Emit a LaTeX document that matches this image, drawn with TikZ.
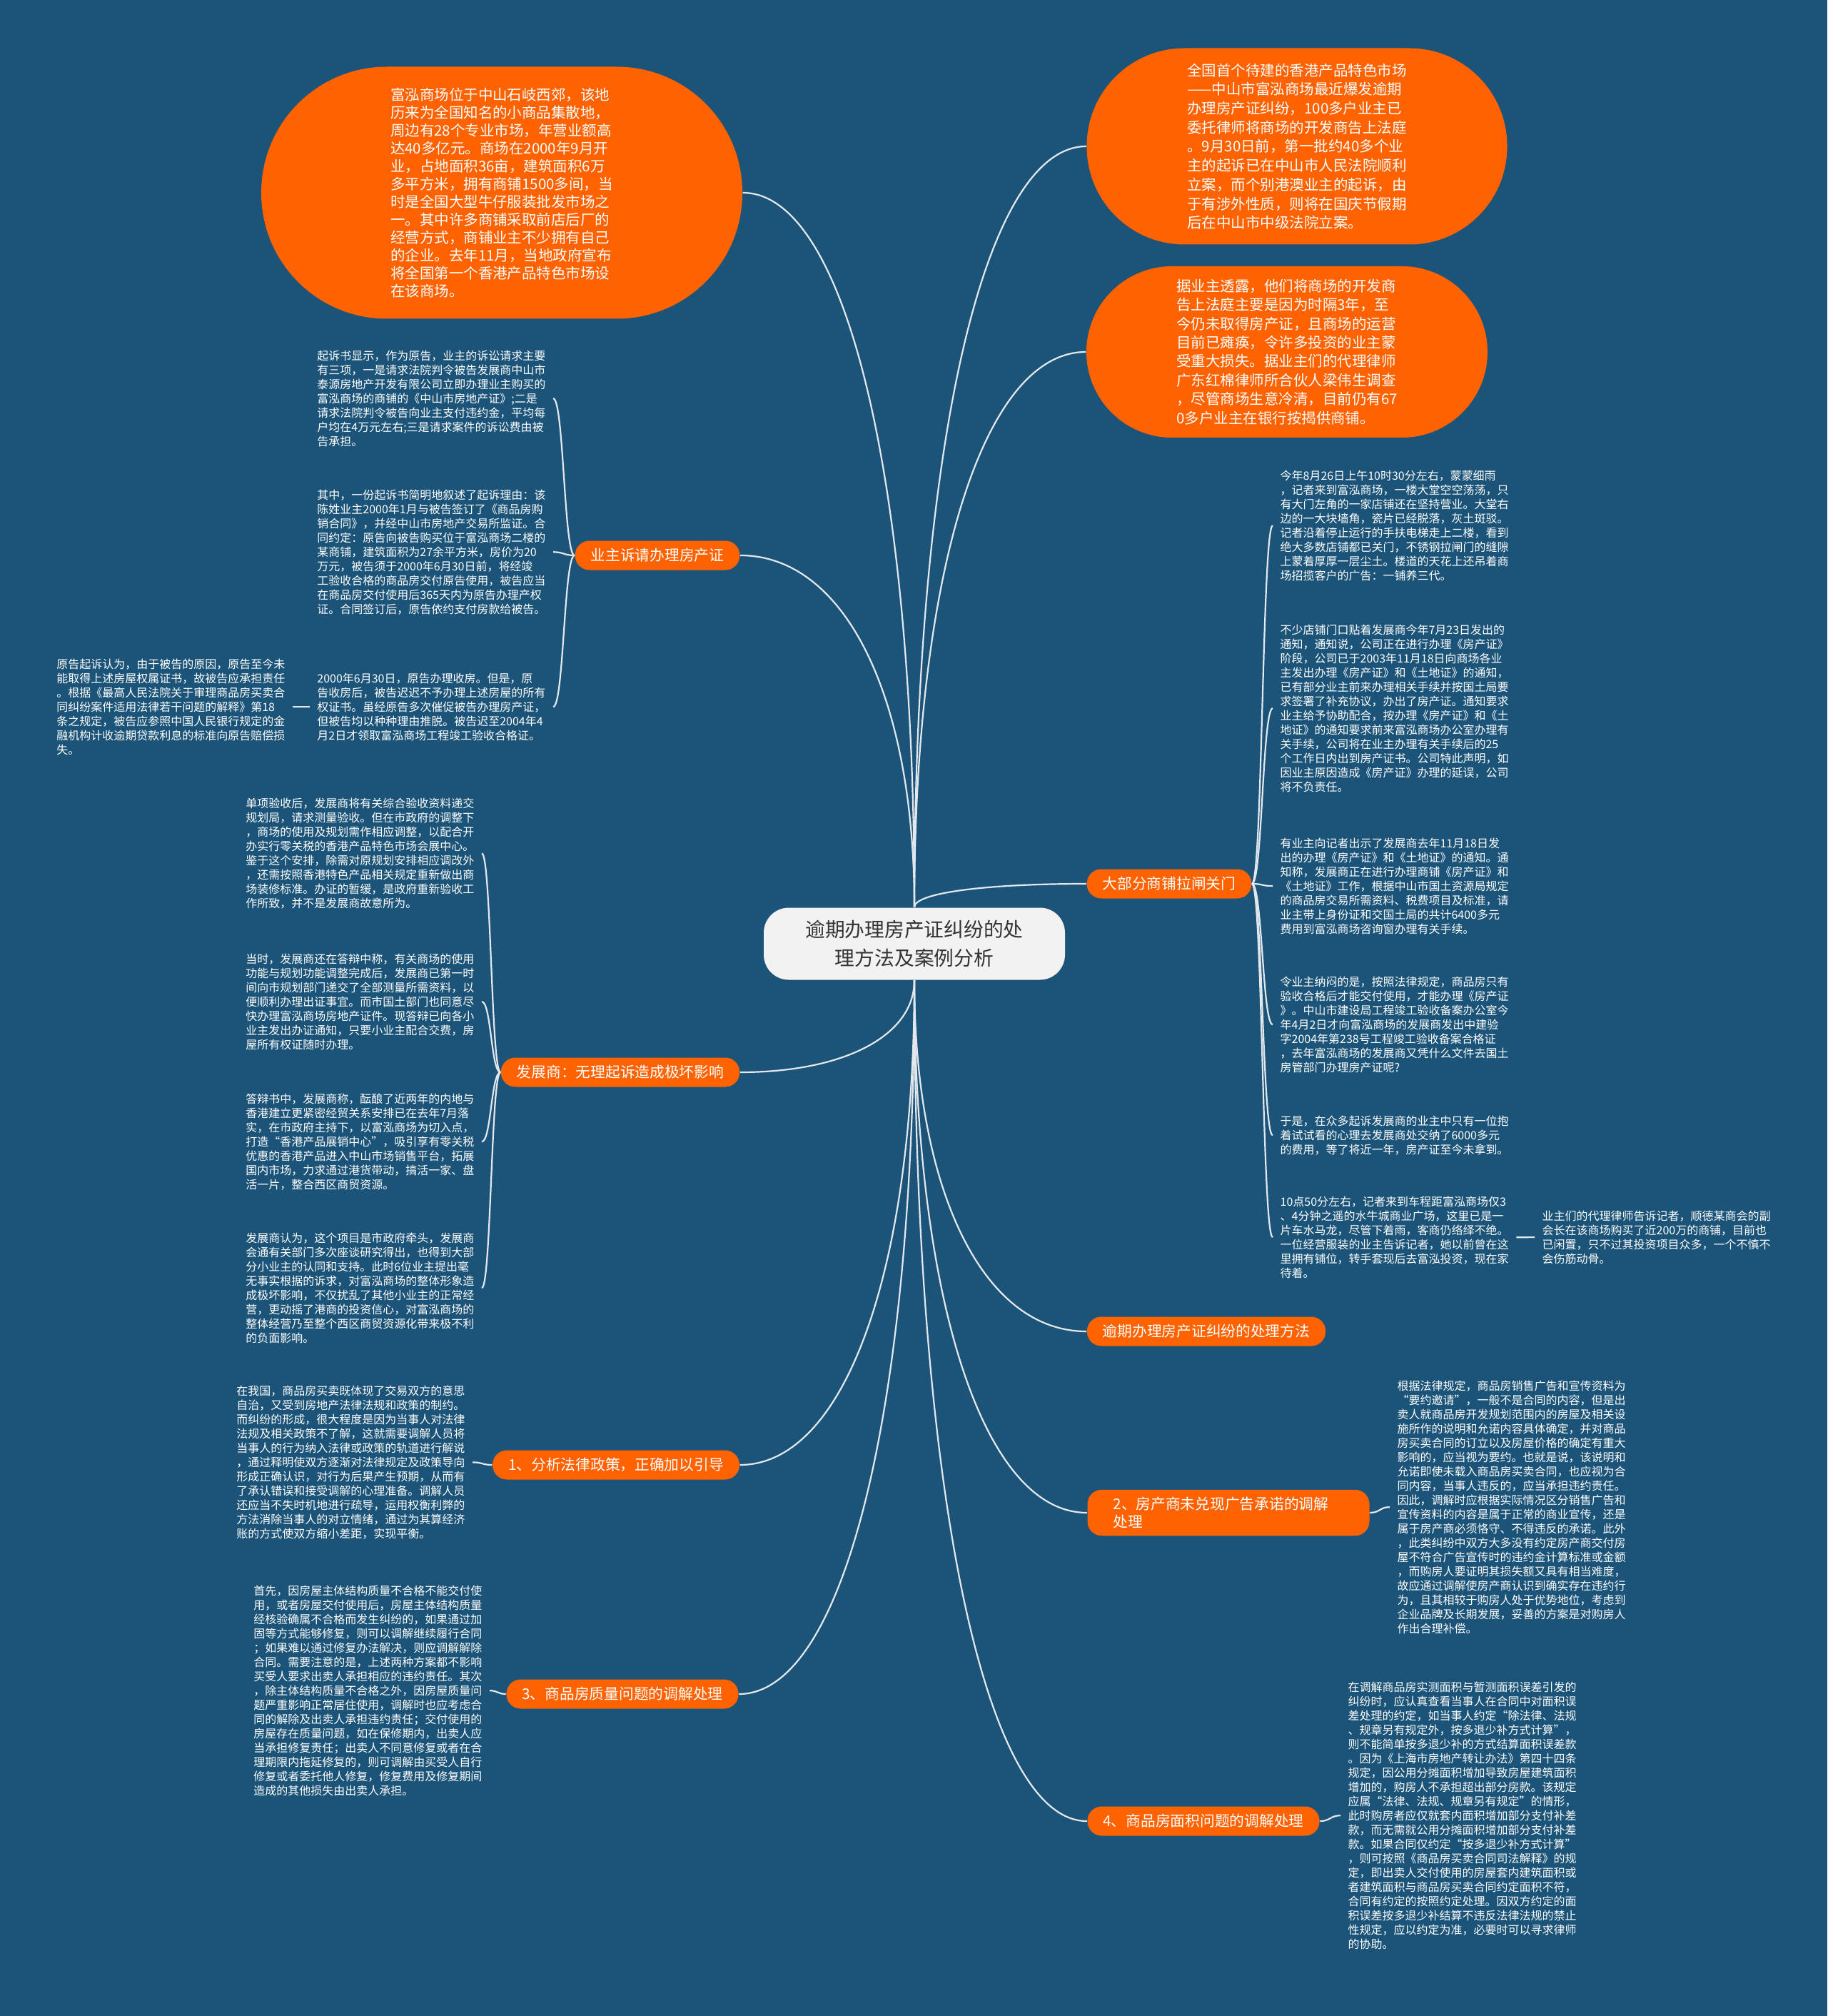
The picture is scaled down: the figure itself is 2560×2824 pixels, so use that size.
\documentclass[tikz,border=0pt]{standalone}
\usepackage{fontspec}
\setmainfont{Noto Sans CJK SC}
\usetikzlibrary{calc}

\definecolor{bgblue}{RGB}{27,84,120}
\definecolor{mmorange}{RGB}{255,98,0}
\definecolor{rootfill}{RGB}{242,242,242}
\definecolor{roottext}{RGB}{51,51,51}
\definecolor{linkgray}{RGB}{226,232,236}

\begin{document}
\begin{tikzpicture}[
    x=0.1mm, y=-0.1mm,
    link/.style={draw=linkgray, line width=0.22mm},
    ctrlink/.style={link, to path={.. controls ($(\tikztostart)!0.6!(\tikztostart |- \tikztotarget)$) and ($(\tikztotarget)!0.6!(\tikztostart |- \tikztotarget)$) .. (\tikztotarget)}},
    sublink/.style={link, to path={.. controls ($(\tikztostart)!0.5!(\tikztotarget |- \tikztostart)$) and ($(\tikztotarget)!0.5!(\tikztostart |- \tikztotarget)$) .. (\tikztotarget)}},
    root/.style={fill=rootfill, text=roottext, rounded corners=3.5mm, minimum width=42.2mm, minimum height=10.1mm, align=center, font=\fontsize{7.9pt}{11.2pt}\selectfont},
    bubble/.style={fill=mmorange, text=white, align=left, inner sep=0pt},
    branch/.style={fill=mmorange, text=white, rounded corners=2mm, inner xsep=2.2mm, inner ysep=1mm, minimum height=4.1mm, align=left, font=\fontsize{5.9pt}{7.2pt}\selectfont},
    note/.style={text=white, align=left, inner xsep=1mm, inner ysep=0pt, font=\fontsize{4.55pt}{5.69pt}\selectfont},
]

\fill[bgblue] (0,0) rectangle (2560,2824);
\useasboundingbox (0,0) rectangle (2560,2824);

% centre
\node[root] (root) at (1281,1322) {逾期办理房产证纠纷的处\\理方法及案例分析};

% big bubbles
\node[bubble, minimum width=67.4mm, minimum height=35.3mm, rounded corners=17.6mm, font=\fontsize{5.83pt}{7.11pt}\selectfont] (market) at (703,270)
  {富泓商场位于中山石岐西郊，该地\\历来为全国知名的小商品集散地，\\周边有28个专业市场，年营业额高\\达40多亿元。商场在2000年9月开\\业，占地面积36亩，建筑面积6万\\多平方米，拥有商铺1500多间，当\\时是全国大型牛仔服装批发市场之\\一。其中许多商铺采取前店后厂的\\经营方式，商铺业主不少拥有自己\\的企业。去年11月，当地政府宣布\\将全国第一个香港产品特色市场设\\在该商场。};
\node[bubble, minimum width=58.9mm, minimum height=27.5mm, rounded corners=13.7mm, font=\fontsize{5.83pt}{7.6pt}\selectfont] (courtcase) at (1817,205)
  {全国首个待建的香港产品特色市场\\——中山市富泓商场最近爆发逾期\\办理房产证纠纷，100多户业主已\\委托律师将商场的开发商告上法庭\\。9月30日前，第一批约40多个业\\主的起诉已在中山市人民法院顺利\\立案，而个别港澳业主的起诉，由\\于有涉外性质，则将在国庆节假期\\后在中山市中级法院立案。};
\node[bubble, minimum width=56.2mm, minimum height=24mm, rounded corners=12mm, font=\fontsize{5.83pt}{7.5pt}\selectfont] (reason) at (1803,493)
  {据业主透露，他们将商场的开发商\\告上法庭主要是因为时隔3年，至\\今仍未取得房产证，且商场的运营\\目前已瘫痪，令许多投资的业主蒙\\受重大损失。据业主们的代理律师\\广东红棉律师所合伙人梁伟生调查\\，尽管商场生意冷清，目前仍有67\\0多户业主在银行按揭供商铺。};

% branches
\node[branch] (claim)   at (921,778)   {业主诉请办理房产证};
\node[branch] (defense) at (869,1502)  {发展商：无理起诉造成极坏影响};
\node[branch] (policy)  at (863,2052)  {1、分析法律政策，正确加以引导};
\node[branch] (quality) at (872,2373)  {3、商品房质量问题的调解处理};
\node[branch] (closed)  at (1638,1238) {大部分商铺拉闸关门};
\node[branch] (method)  at (1690,1865) {逾期办理房产证纠纷的处理方法};
\node[branch, inner xsep=3.6mm, text width=32.3mm] (advert) at (1721,2119) {2、房产商未兑现广告承诺的调解\\处理};
\node[branch] (area)    at (1686,2551) {4、商品房面积问题的调解处理};

% notes: claim
\node[note, anchor=north east] (claimA) at (775,490)
  {起诉书显示，作为原告，业主的诉讼请求主要\\有三项，一是请求法院判令被告发展商中山市\\泰源房地产开发有限公司立即办理业主购买的\\富泓商场的商铺的《中山市房地产证》;二是\\请求法院判令被告向业主支付违约金，平均每\\户均在4万元左右;三是请求案件的诉讼费由被\\告承担。};
\node[note, anchor=north east] (claimB) at (775,685)
  {其中，一份起诉书简明地叙述了起诉理由：该\\陈姓业主2000年1月与被告签订了《商品房购\\销合同》，并经中山市房地产交易所监证。合\\同约定：原告向被告购买位于富泓商场二楼的\\某商铺，建筑面积为27余平方米，房价为20\\万元，被告须于2000年6月30日前，将经竣\\工验收合格的商品房交付原告使用，被告应当\\在商品房交付使用后365天内为原告办理产权\\证。合同签订后，原告依约支付房款给被告。};
\node[note, anchor=north east] (claimC) at (775,942)
  {2000年6月30日，原告办理收房。但是，原\\告收房后，被告迟迟不予办理上述房屋的所有\\权证书。虽经原告多次催促被告办理房产证，\\但被告均以种种理由推脱。被告迟至2004年4\\月2日才领取富泓商场工程竣工验收合格证。};
\node[note, anchor=north east] (claimD) at (410,922)
  {原告起诉认为，由于被告的原因，原告至今未\\能取得上述房屋权属证书，故被告应承担责任\\。根据《最高人民法院关于审理商品房买卖合\\同纠纷案件适用法律若干问题的解释》第18\\条之规定，被告应参照中国人民银行规定的金\\融机构计收逾期贷款利息的标准向原告赔偿损\\失。};

% notes: defense
\node[note, anchor=north east] (defA) at (675,1117)
  {单项验收后，发展商将有关综合验收资料递交\\规划局，请求测量验收。但在市政府的调整下\\，商场的使用及规划需作相应调整，以配合开\\办实行零关税的香港产品特色市场会展中心。\\鉴于这个安排，除需对原规划安排相应调改外\\，还需按照香港特色产品相关规定重新做出商\\场装修标准。办证的暂缓，是政府重新验收工\\作所致，并不是发展商故意所为。};
\node[note, anchor=north east] (defB) at (675,1335)
  {当时，发展商还在答辩中称，有关商场的使用\\功能与规划功能调整完成后，发展商已第一时\\间向市规划部门递交了全部测量所需资料，以\\便顺利办理出证事宜。而市国土部门也同意尽\\快办理富泓商场房地产证件。现答辩已向各小\\业主发出办证通知，只要小业主配合交费，房\\屋所有权证随时办理。};
\node[note, anchor=north east] (defC) at (675,1531)
  {答辩书中，发展商称，酝酿了近两年的内地与\\香港建立更紧密经贸关系安排已在去年7月落\\实，在市政府主持下，以富泓商场为切入点，\\打造“香港产品展销中心”，吸引享有零关税\\优惠的香港产品进入中山市场销售平台，拓展\\国内市场，力求通过港货带动，搞活一家、盘\\活一片，整合西区商贸资源。};
\node[note, anchor=north east] (defD) at (675,1726)
  {发展商认为，这个项目是市政府牵头，发展商\\会通有关部门多次座谈研究得出，也得到大部\\分小业主的认同和支持。此时6位业主提出毫\\无事实根据的诉求，对富泓商场的整体形象造\\成极坏影响，不仅扰乱了其他小业主的正常经\\营，更动摇了港商的投资信心，对富泓商场的\\整体经营乃至整个西区商贸资源化带来极不利\\的负面影响。};

% notes: policy, quality
\node[note, anchor=north east] (policyA) at (662,1940)
  {在我国，商品房买卖既体现了交易双方的意思\\自治，又受到房地产法律法规和政策的制约。\\而纠纷的形成，很大程度是因为当事人对法律\\法规及相关政策不了解，这就需要调解人员将\\当事人的行为纳入法律或政策的轨道进行解说\\，通过释明使双方逐渐对法律规定及政策导向\\形成正确认识，对行为后果产生预期，从而有\\了承认错误和接受调解的心理准备。调解人员\\还应当不失时机地进行疏导，运用权衡利弊的\\方法消除当事人的对立情绪，通过为其算经济\\账的方式使双方缩小差距，实现平衡。};
\node[note, anchor=north east] (qualityA) at (686,2220)
  {首先，因房屋主体结构质量不合格不能交付使\\用，或者房屋交付使用后，房屋主体结构质量\\经核验确属不合格而发生纠纷的，如果通过加\\固等方式能够修复，则可以调解继续履行合同\\；如果难以通过修复办法解决，则应调解解除\\合同。需要注意的是，上述两种方案都不影响\\买受人要求出卖人承担相应的违约责任。其次\\，除主体结构质量不合格之外，因房屋质量问\\题严重影响正常居住使用，调解时也应考虑合\\同的解除及出卖人承担违约责任；交付使用的\\房屋存在质量问题，如在保修期内，出卖人应\\当承担修复责任；出卖人不同意修复或者在合\\理期限内拖延修复的，则可调解由买受人自行\\修复或者委托他人修复，修复费用及修复期间\\造成的其他损失由出卖人承担。};

% notes: closed
\node[note, anchor=north west] (closedA) at (1783,658)
  {今年8月26日上午10时30分左右，蒙蒙细雨\\，记者来到富泓商场，一楼大堂空空荡荡，只\\有大门左角的一家店铺还在坚持营业。大堂右\\边的一大块墙角，瓷片已经脱落，灰土斑驳。\\记者沿着停止运行的手扶电梯走上二楼，看到\\绝大多数店铺都已关门，不锈钢拉闸门的缝隙\\上蒙着厚厚一层尘土。楼道的天花上还吊着商\\场招揽客户的广告：一铺养三代。};
\node[note, anchor=north west] (closedB) at (1783,874)
  {不少店铺门口贴着发展商今年7月23日发出的\\通知，通知说，公司正在进行办理《房产证》\\阶段，公司已于2003年11月18日向商场各业\\主发出办理《房产证》和《土地证》的通知，\\已有部分业主前来办理相关手续并按国土局要\\求签署了补充协议，办出了房产证。通知要求\\业主给予协助配合，按办理《房产证》和《土\\地证》的通知要求前来富泓商场办公室办理有\\关手续，公司将在业主办理有关手续后的25\\个工作日内出到房产证书。公司特此声明，如\\因业主原因造成《房产证》办理的延误，公司\\将不负责任。};
\node[note, anchor=north west] (closedC) at (1783,1173)
  {有业主向记者出示了发展商去年11月18日发\\出的办理《房产证》和《土地证》的通知。通\\知称，发展商正在进行办理商铺《房产证》和\\《土地证》工作，根据中山市国土资源局规定\\的商品房交易所需资料、税费项目及标准，请\\业主带上身份证和交国土局的共计6400多元\\费用到富泓商场咨询窗办理有关手续。};
\node[note, anchor=north west] (closedD) at (1783,1367)
  {令业主纳闷的是，按照法律规定，商品房只有\\验收合格后才能交付使用，才能办理《房产证\\》。中山市建设局工程竣工验收备案办公室今\\年4月2日才向富泓商场的发展商发出中建验\\字2004年第238号工程竣工验收备案合格证\\，去年富泓商场的发展商又凭什么文件去国土\\房管部门办理房产证呢?};
\node[note, anchor=north west] (closedE) at (1783,1562)
  {于是，在众多起诉发展商的业主中只有一位抱\\着试试看的心理去发展商处交纳了6000多元\\的费用，等了将近一年，房产证至今未拿到。};
\node[note, anchor=north west] (closedF) at (1783,1675)
  {10点50分左右，记者来到车程距富泓商场仅3\\、4分钟之遥的水牛城商业广场，这里已是一\\片车水马龙，尽管下着雨，客商仍络绎不绝。\\一位经营服装的业主告诉记者，她以前曾在这\\里拥有铺位，转手套现后去富泓投资，现在家\\待着。};
\node[note, anchor=north west] (closedG) at (2150,1695)
  {业主们的代理律师告诉记者，顺德某商会的副\\会长在该商场购买了近200万的商铺，目前也\\已闲置，只不过其投资项目众多，一个不慎不\\会伤筋动骨。};

% notes: advert, area
\node[note, anchor=north west] (advertA) at (1947,1933)
  {根据法律规定，商品房销售广告和宣传资料为\\“要约邀请”，一般不是合同的内容，但是出\\卖人就商品房开发规划范围内的房屋及相关设\\施所作的说明和允诺内容具体确定，并对商品\\房买卖合同的订立以及房屋价格的确定有重大\\影响的，应当视为要约。也就是说，该说明和\\允诺即使未载入商品房买卖合同，也应视为合\\同内容，当事人违反的，应当承担违约责任。\\因此，调解时应根据实际情况区分销售广告和\\宣传资料的内容是属于正常的商业宣传，还是\\属于房产商必须恪守、不得违反的承诺。此外\\，此类纠纷中双方大多没有约定房产商交付房\\屋不符合广告宣传时的违约金计算标准或金额\\，而购房人要证明其损失额又具有相当难度，\\故应通过调解使房产商认识到确实存在违约行\\为，且其相较于购房人处于优势地位，考虑到\\企业品牌及长期发展，妥善的方案是对购房人\\作出合理补偿。};
\node[note, anchor=north west] (areaA) at (1878,2355)
  {在调解商品房实测面积与暂测面积误差引发的\\纠纷时，应认真查看当事人在合同中对面积误\\差处理的约定，如当事人约定“除法律、法规\\、规章另有规定外，按多退少补方式计算”，\\则不能简单按多退少补的方式结算面积误差款\\。因为《上海市房地产转让办法》第四十四条\\规定，因公用分摊面积增加导致房屋建筑面积\\增加的，购房人不承担超出部分房款。该规定\\应属“法律、法规、规章另有规定”的情形，\\此时购房者应仅就套内面积增加部分支付补差\\款，而无需就公用分摊面积增加部分支付补差\\款。如果合同仅约定“按多退少补方式计算”\\，则可按照《商品房买卖合同司法解释》的规\\定，即出卖人交付使用的房屋套内建筑面积或\\者建筑面积与商品房买卖合同约定面积不符，\\合同有约定的按照约定处理。因双方约定的面\\积误差按多退少补结算不违反法律法规的禁止\\性规定，应以约定为准，必要时可以寻求律师\\的协助。};

% centre links
\draw[ctrlink] (root.north) to (market.east);
\draw[ctrlink] (root.north) to (claim.east);
\draw[ctrlink] (root.north) to (courtcase.west);
\draw[ctrlink] (root.north) to (reason.west);
\draw[ctrlink] (root.north) to (closed.west);
\draw[ctrlink] (root.south) to (defense.east);
\draw[ctrlink] (root.south) to (policy.east);
\draw[ctrlink] (root.south) to (quality.east);
\draw[ctrlink] (root.south) to (method.west);
\draw[ctrlink] (root.south) to (advert.west);
\draw[ctrlink] (root.south) to (area.west);

% branch links
\foreach \n in {claimA,claimB,claimC}
  \draw[sublink] (claim.west) to (\n.east);
\draw[sublink] (claimC.west) to (claimD.east);
\foreach \n in {defA,defB,defC,defD}
  \draw[sublink] (defense.west) to (\n.east);
\draw[sublink] (policy.west) to (policyA.east);
\draw[sublink] (quality.west) to (qualityA.east);
\foreach \n in {closedA,closedB,closedC,closedD,closedE,closedF}
  \draw[sublink] (closed.east) to (\n.west);
\draw[sublink] (closedF.east) to (closedG.west);
\draw[sublink] (advert.east) to (advertA.west);
\draw[sublink] (area.east) to (areaA.west);

\end{tikzpicture}
\end{document}
